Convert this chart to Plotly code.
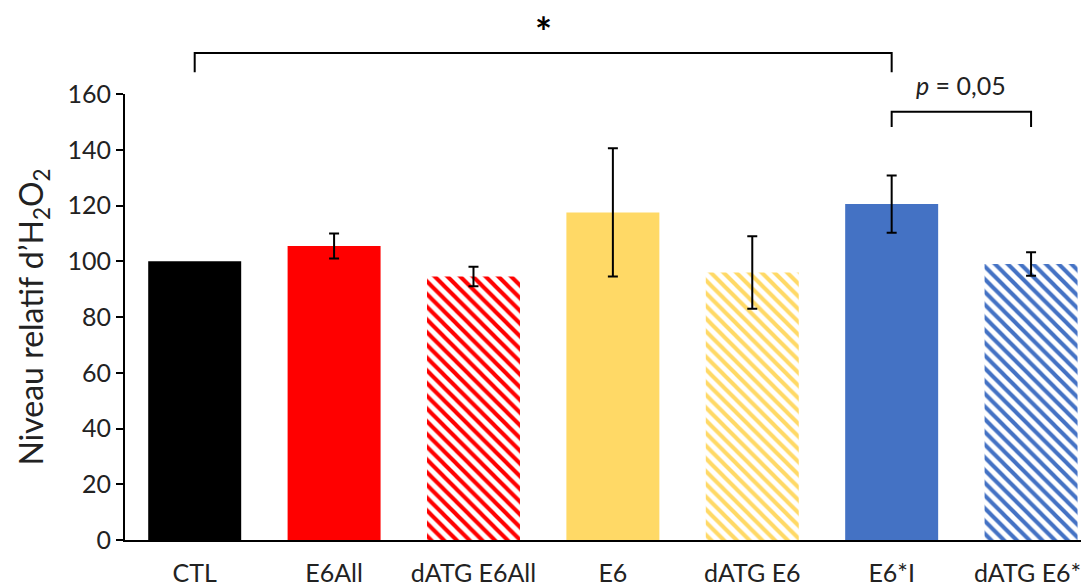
import plotly.graph_objects as go

categories = ["CTL", "E6All", "dATG E6All", "E6", "dATG E6", "E6*I", "dATG E6*I"]
values = [100, 105.5, 94.5, 117.5, 96, 120.5, 99]
errors = [0, 4.5, 3.5, 23, 13, 10.3, 4.2]
colors = ["#000000", "#FF0000", "#FF0000", "#FFD966", "#FFD966", "#4472C4", "#4472C4"]
hatched = [False, False, True, False, True, False, True]

FONT = "Lato"

fig = go.Figure()
for i, cat in enumerate(categories):
    if hatched[i]:
        marker = dict(color="white", line=dict(width=0),
                      pattern=dict(shape="\\", fgcolor=colors[i], bgcolor="white",
                                   size=9, solidity=0.45, fillmode="replace"))
    else:
        marker = dict(color=colors[i], line=dict(width=0))
    fig.add_trace(go.Bar(
        x=[i], y=[values[i]], name=cat, marker=marker, width=0.667,
        error_y=dict(type="data", array=[errors[i]], color="black",
                     thickness=2, width=5, visible=errors[i] > 0),
    ))

# significance brackets (x in category index, y in paper units)
def bracket(x0, x1, y_top, y_bot):
    path = f"M {x0},{y_bot} L {x0},{y_top} L {x1},{y_top} L {x1},{y_bot}"
    fig.add_shape(type="path", path=path, xref="x", yref="paper",
                  line=dict(color="black", width=2))

bracket(0, 5, 1.092, 1.049)
bracket(5, 6, 0.96, 0.926)

fig.add_annotation(x=2.5, y=1.14, xref="x", yref="paper", yanchor="middle",
                   text="<b>*</b>", showarrow=False,
                   font=dict(size=40, color="black", family=FONT))
fig.add_annotation(x=5.5, y=1.02, xref="x", yref="paper", yanchor="middle",
                   text="<i>p</i> = 0,05", showarrow=False,
                   font=dict(size=25, color="#222222", family=FONT))

fig.update_layout(
    width=1089, height=588,
    margin=dict(l=117, r=0, t=86, b=56),
    plot_bgcolor="white", paper_bgcolor="white",
    showlegend=False, barmode="overlay",
    font=dict(family=FONT, size=25, color="#222222"),
)
fig.update_xaxes(
    range=[-0.5, 6.473], automargin=False,
    tickmode="array", tickvals=list(range(len(categories))), ticktext=categories,
    showline=True, linecolor="black", linewidth=2,
    showgrid=False, zeroline=False, ticks="",
    ticklabelstandoff=10,
    tickfont=dict(size=25),
)
fig.update_yaxes(
    range=[0, 160], dtick=20, automargin=False,
    showline=True, linecolor="black", linewidth=2,
    showgrid=False, zeroline=False,
    ticks="outside", ticklen=7, tickwidth=2, tickcolor="black",
    tickfont=dict(size=25),
    title=dict(text="Niveau relatif d’H<sub>2</sub>O<sub>2</sub>", font=dict(size=32), standoff=14),
)

fig.write_html("out.html")
